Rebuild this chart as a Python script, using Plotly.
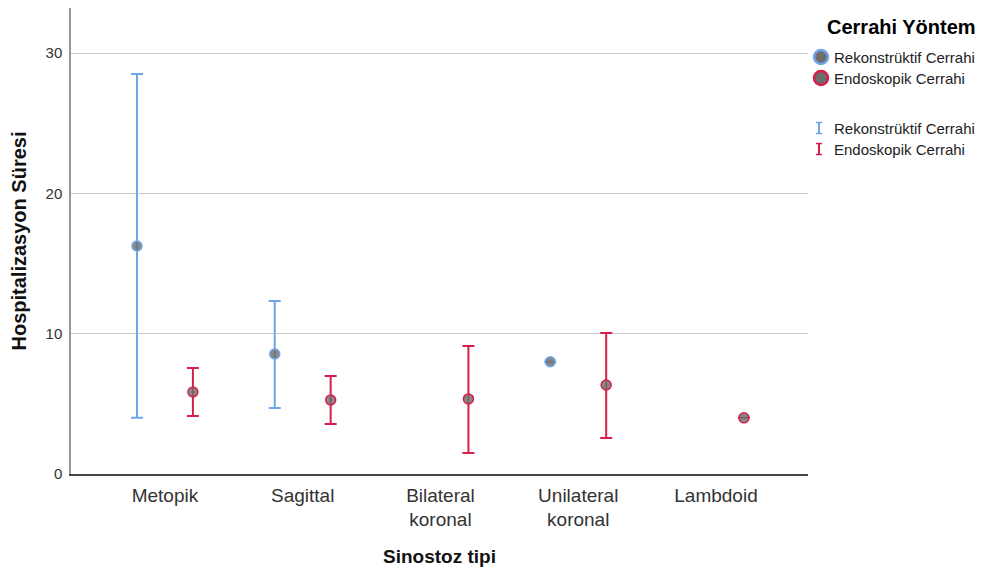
import plotly.graph_objects as go

# ---- data ----
categories = ["Metopik", "Sagittal", "Bilateral<br>koronal", "Unilateral<br>koronal", "Lambdoid"]
series_names = ["Rekonstrüktif Cerrahi", "Endoskopik Cerrahi"]

rek_mean = [16.25, 8.55, None, 8.0, None]
rek_upper = [28.5, 12.33, None, None, None]
rek_lower = [4.0, 4.70, None, None, None]

endo_mean = [5.84, 5.27, 5.35, 6.34, 4.0]
endo_upper = [7.55, 6.98, 9.12, 10.05, None]
endo_lower = [4.13, 3.56, 1.50, 2.57, None]

y_ticks = [0, 10, 20, 30]

# ---- style ----
BLUE = "#6fa6e8"
RED = "#d6204b"
GRAY_FILL = "rgba(110,110,110,0.82)"
FONT = "Liberation Sans, Arial, sans-serif"
PAGE_OFF = 8  # default body margin of the html page
W, H = 985, 566
L, R, T, B = 63, 185, 0, 100
OFF = 0.203

fig = go.Figure()

def add_series(means, upper, lower, color, offset, name):
    xs, ys, eu, el = [], [], [], []
    for i, m in enumerate(means):
        if m is None:
            continue
        xs.append(i + offset)
        ys.append(m)
        eu.append(None if upper[i] is None else upper[i] - m)
        el.append(None if lower[i] is None else m - lower[i])
    fig.add_trace(go.Scatter(
        x=xs, y=ys, mode="markers", name=name, showlegend=False,
        marker=dict(size=10, color=GRAY_FILL, line=dict(color=color, width=1.5)),
        error_y=dict(type="data", symmetric=False, array=eu, arrayminus=el,
                     color=color, thickness=2, width=6),
        cliponaxis=False,
    ))

add_series(rek_mean, rek_upper, rek_lower, BLUE, -OFF, series_names[0])
add_series(endo_mean, endo_upper, endo_lower, RED, OFF, series_names[1])

# ---- manual legend (paper coords from page pixels) ----
PW, PH = W - L - R, H - T - B
def px(x):
    return (x - PAGE_OFF - L) / PW
def py(y):
    return (H - B - (y - PAGE_OFF)) / PH

shapes = []
annotations = []
annotations.append(dict(x=px(901), y=py(27), xref="paper", yref="paper", text="<b>Cerrahi Yöntem</b>",
                        showarrow=False, xanchor="center", yanchor="middle",
                        font=dict(family=FONT, size=20, color="#000")))
for cy, col, name in [(57, BLUE, series_names[0]), (78, RED, series_names[1])]:
    shapes.append(dict(type="circle", xref="paper", yref="paper",
                       x0=px(821 - 7), x1=px(821 + 7), y0=py(cy - 7), y1=py(cy + 7),
                       fillcolor="#6e6e6e", line=dict(color=col, width=2.5)))
    annotations.append(dict(x=px(832), y=py(cy), xref="paper", yref="paper", text=name,
                            showarrow=False, xanchor="left", yanchor="middle",
                            font=dict(family=FONT, size=15, color="#222")))
for cy, col, name in [(128, BLUE, series_names[0]), (149, RED, series_names[1])]:
    shapes.append(dict(type="line", xref="paper", yref="paper",
                       x0=px(819), x1=px(819), y0=py(cy - 5.5), y1=py(cy + 5.5),
                       line=dict(color=col, width=2)))
    for yy in (cy - 5.5, cy + 5.5):
        shapes.append(dict(type="line", xref="paper", yref="paper",
                           x0=px(816), x1=px(822), y0=py(yy), y1=py(yy),
                           line=dict(color=col, width=1.5)))
    annotations.append(dict(x=px(832), y=py(cy), xref="paper", yref="paper", text=name,
                            showarrow=False, xanchor="left", yanchor="middle",
                            font=dict(family=FONT, size=15, color="#222")))

fig.update_layout(
    width=W, height=H,
    margin=dict(l=L, r=R, t=T, b=B, pad=0),
    paper_bgcolor="white", plot_bgcolor="white",
    showlegend=False,
    font=dict(family=FONT, color="#222"),
    shapes=shapes, annotations=annotations,
    xaxis=dict(
        range=[-0.682, 4.668], tickmode="array", tickvals=list(range(len(categories))),
        ticktext=categories, showgrid=False, zeroline=False,
        showline=True, linecolor="#444", linewidth=1.5, ticks="",
        tickfont=dict(family=FONT, size=19, color="#333"), ticklabelstandoff=3,
        title=dict(text="<b>Sinostoz tipi</b>", font=dict(family=FONT, size=19, color="#111"), standoff=20),
    ),
    yaxis=dict(
        range=[0, 33.21], tickmode="array", tickvals=y_ticks,
        showgrid=True, gridcolor="#c8c8c8", gridwidth=1, zeroline=False,
        showline=True, linecolor="#999", linewidth=1.5, ticks="",
        tickfont=dict(family=FONT, size=15, color="#333"), ticklabelstandoff=4,
        title=dict(text="<b>Hospitalizasyon Süresi</b>", font=dict(family=FONT, size=20, color="#111"), standoff=16),
    ),
)

fig.write_html("out.html")
